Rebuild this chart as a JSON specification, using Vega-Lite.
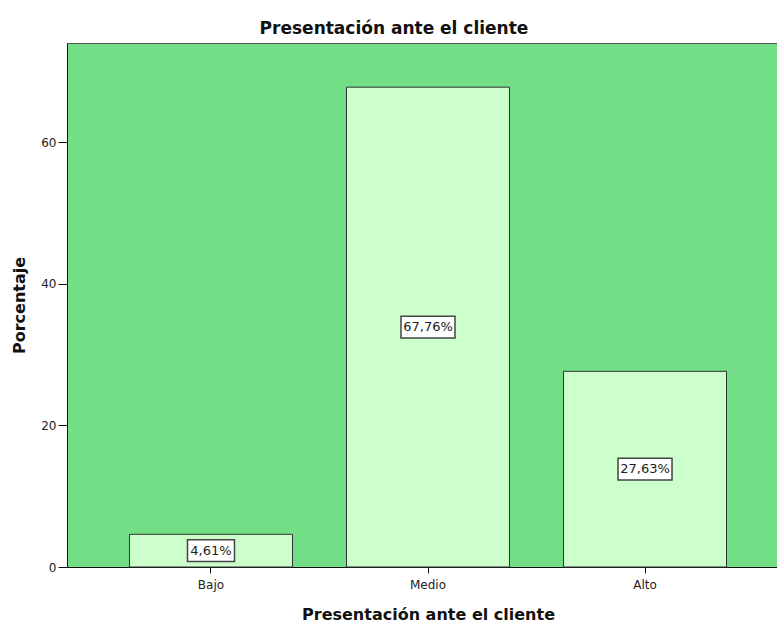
{
  "$schema": "https://vega.github.io/schema/vega-lite/v6.json",
  "autosize": "none",
  "padding": {"left": 67, "top": 43, "right": 0, "bottom": 56},
  "width": 710,
  "height": 524,
  "background": "white",
  "title": {
    "text": "Presentación ante el cliente",
    "font": "DejaVu Sans",
    "fontSize": 17,
    "fontWeight": "bold",
    "color": "#111111",
    "anchor": "middle",
    "offset": 5,
    "dx": -28
  },
  "config": {
    "view": {"fill": "#72de86", "stroke": "#555555", "strokeWidth": 1},
    "font": "DejaVu Sans",
    "axis": {
      "grid": false,
      "domainColor": "#111111",
      "tickColor": "#111111",
      "labelColor": "#222222",
      "labelFont": "DejaVu Sans",
      "labelFontSize": 12,
      "titleFont": "DejaVu Sans",
      "titleFontSize": 16,
      "titleFontWeight": "bold",
      "titleColor": "#111111"
    }
  },
  "data": {
    "values": [
      {"nivel": "Bajo", "porcentaje": 4.61},
      {"nivel": "Medio", "porcentaje": 67.76},
      {"nivel": "Alto", "porcentaje": 27.63}
    ]
  },
  "transform": [
    {"calculate": "datum.porcentaje / 2", "as": "mitad"},
    {"calculate": "replace(format(datum.porcentaje, '.2f'), '.', ',') + '%'", "as": "etiqueta"}
  ],
  "encoding": {
    "x": {
      "field": "nivel",
      "type": "nominal",
      "sort": ["Bajo", "Medio", "Alto"],
      "scale": {"range": [0, 722], "paddingInner": 0.249, "paddingOuter": 0.288},
      "axis": {
        "title": "Presentación ante el cliente",
        "labelAngle": 0,
        "tickSize": 6,
        "labelPadding": 6,
        "titlePadding": 16
      }
    }
  },
  "layer": [
    {
      "mark": {"type": "bar", "fill": "#ccffcc", "stroke": "#333333", "strokeWidth": 1},
      "encoding": {
        "y": {
          "field": "porcentaje",
          "type": "quantitative",
          "scale": {"domain": [0, 74], "nice": false},
          "axis": {
            "title": "Porcentaje",
            "values": [0, 20, 40, 60],
            "tickSize": 9,
            "labelPadding": 2,
            "titlePadding": 13
          }
        }
      }
    },
    {
      "mark": {"type": "point", "filled": true, "fill": "white", "stroke": "#444444", "strokeWidth": 1.5, "opacity": 1},
      "encoding": {
        "y": {"field": "mitad", "type": "quantitative"},
        "shape": {
          "condition": {"test": "datum.porcentaje < 10", "value": "M-1,-0.46L1,-0.46L1,0.46L-1,0.46Z"},
          "value": "M-1,-0.4L1,-0.4L1,0.4L-1,0.4Z"
        },
        "size": {
          "condition": {"test": "datum.porcentaje < 10", "value": 2209},
          "value": 2916
        }
      }
    },
    {
      "mark": {"type": "text", "font": "DejaVu Sans", "fontSize": 13, "color": "#222222", "baseline": "middle", "align": "center"},
      "encoding": {
        "y": {"field": "mitad", "type": "quantitative"},
        "text": {"field": "etiqueta", "type": "nominal"}
      }
    }
  ]
}
